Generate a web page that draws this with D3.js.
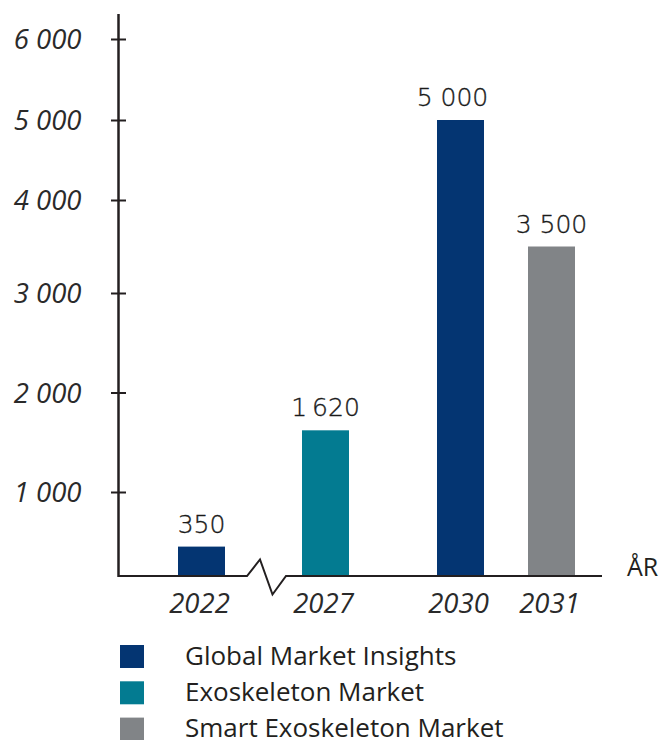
<!DOCTYPE html>
<html>
<head>
<meta charset="utf-8">
<script src="https://cdn.jsdelivr.net/npm/d3@7"></script>
<style>
  html, body { margin: 0; padding: 0; background: #fff; }
  svg { display: block; }
</style>
</head>
<body>
<svg id="chart" width="667" height="740"></svg>
<script>
// ---- data ----
const categories = ["2022", "2027", "2030", "2031"];
const values = [350, 1620, 5000, 3500];
const valueLabels = ["350", "1\u202F620", "5 000", "3 500"];
const seriesOfBar = [0, 1, 0, 2];
const seriesNames = ["Global Market Insights", "Exoskeleton Market", "Smart Exoskeleton Market"];
const seriesColors = ["#043572", "#037b91", "#818487"];
const yTicks = [1000, 2000, 3000, 4000, 5000, 6000];
const yTickLabels = ["1 000", "2 000", "3 000", "4 000", "5 000", "6 000"];
const axisTitle = "ÅR";

// ---- layout ----
const svg = d3.select("#chart");
const axisX = 118.5, baseY = 576, axisTop = 14, axisRight = 602;
const ink = "#231f20";

// y scale: piecewise, follows the (uneven) tick spacing of the original
const y = d3.scaleLinear()
  .domain([0, 1000, 2000, 3000, 4000, 5000, 6000])
  .range([baseY, 492, 392.5, 293, 200, 120, 39]);

// x scale over category index (axis is broken after the first category)
const x = d3.scaleLinear()
  .domain([0, 1, 2, 3])
  .range([201.5, 325.5, 460.5, 551.5]);
const barW = 47;

// bars
svg.append("g").selectAll("rect").data(values).join("rect")
  .attr("x", (d, i) => x(i) - barW / 2)
  .attr("width", barW)
  .attr("y", d => y(d))
  .attr("height", d => baseY - y(d))
  .attr("fill", (d, i) => seriesColors[seriesOfBar[i]]);

// value labels
svg.append("g").selectAll("text").data(values).join("text")
  .attr("x", (d, i) => x(i) - (i === 2 ? 8 : 0))
  .attr("y", d => y(d) - 14)
  .attr("text-anchor", "middle")
  .attr("font-family", "DejaVu Sans")
  .attr("font-weight", 200)
  .attr("font-size", 25)
  .attr("fill", "#1a1a1a")
  .attr("stroke", "#1a1a1a")
  .attr("stroke-width", 0.35)
  .text((d, i) => valueLabels[i]);

// y axis
const yAxis = d3.axisLeft(y).tickValues(yTicks).tickSize(0).tickFormat((d, i) => yTickLabels[i]);
const gy = svg.append("g").attr("transform", `translate(${axisX},0)`).call(yAxis);
gy.select(".domain").remove();
gy.selectAll("text")
  .attr("x", -37)
  .attr("dy", "0.35em")
  .attr("font-family", "Open Sans")
  .attr("font-style", "italic")
  .attr("font-weight", 400)
  .attr("font-size", 27.5)
  .attr("fill", "#2a2a2a");
gy.selectAll(".tick").append("line")
  .attr("x1", -7.5).attr("x2", 7.5)
  .attr("stroke", ink).attr("stroke-width", 2);
svg.append("line")
  .attr("x1", axisX).attr("x2", axisX)
  .attr("y1", axisTop).attr("y2", baseY + 1)
  .attr("stroke", ink).attr("stroke-width", 2.5);

// baseline with break
const brk = [[247, baseY], [260, 559.5], [272.5, 594.5], [286, baseY]];
const line = d3.line();
svg.append("path")
  .attr("d", line([[axisX, baseY], ...brk, [axisRight, baseY]]))
  .attr("fill", "none")
  .attr("stroke", ink)
  .attr("stroke-width", 2)
  .attr("stroke-linejoin", "miter");

// x labels
svg.append("g").selectAll("text").data(categories).join("text")
  .attr("x", (d, i) => x(i) - 2)
  .attr("y", 613)
  .attr("text-anchor", "middle")
  .attr("font-family", "Open Sans")
  .attr("font-style", "italic")
  .attr("font-weight", 400)
  .attr("font-size", 27.5)
  .attr("fill", "#2a2a2a")
  .text(d => d);

// axis title
svg.append("text")
  .attr("x", 627)
  .attr("y", 576)
  .attr("font-family", "Open Sans")
  .attr("font-size", 25)
  .attr("fill", ink)
  .text(axisTitle);

// legend
const lg = svg.append("g").selectAll("g").data(seriesNames).join("g")
  .attr("transform", (d, i) => `translate(120,${645 + i * 36.3})`);
lg.append("rect").attr("width", 24).attr("height", 23)
  .attr("fill", (d, i) => seriesColors[i]);
lg.append("text")
  .attr("x", 65).attr("y", 19.5)
  .attr("font-family", "Open Sans")
  .attr("font-size", 26)
  .attr("fill", ink)
  .text(d => d);
</script>
</body>
</html>
